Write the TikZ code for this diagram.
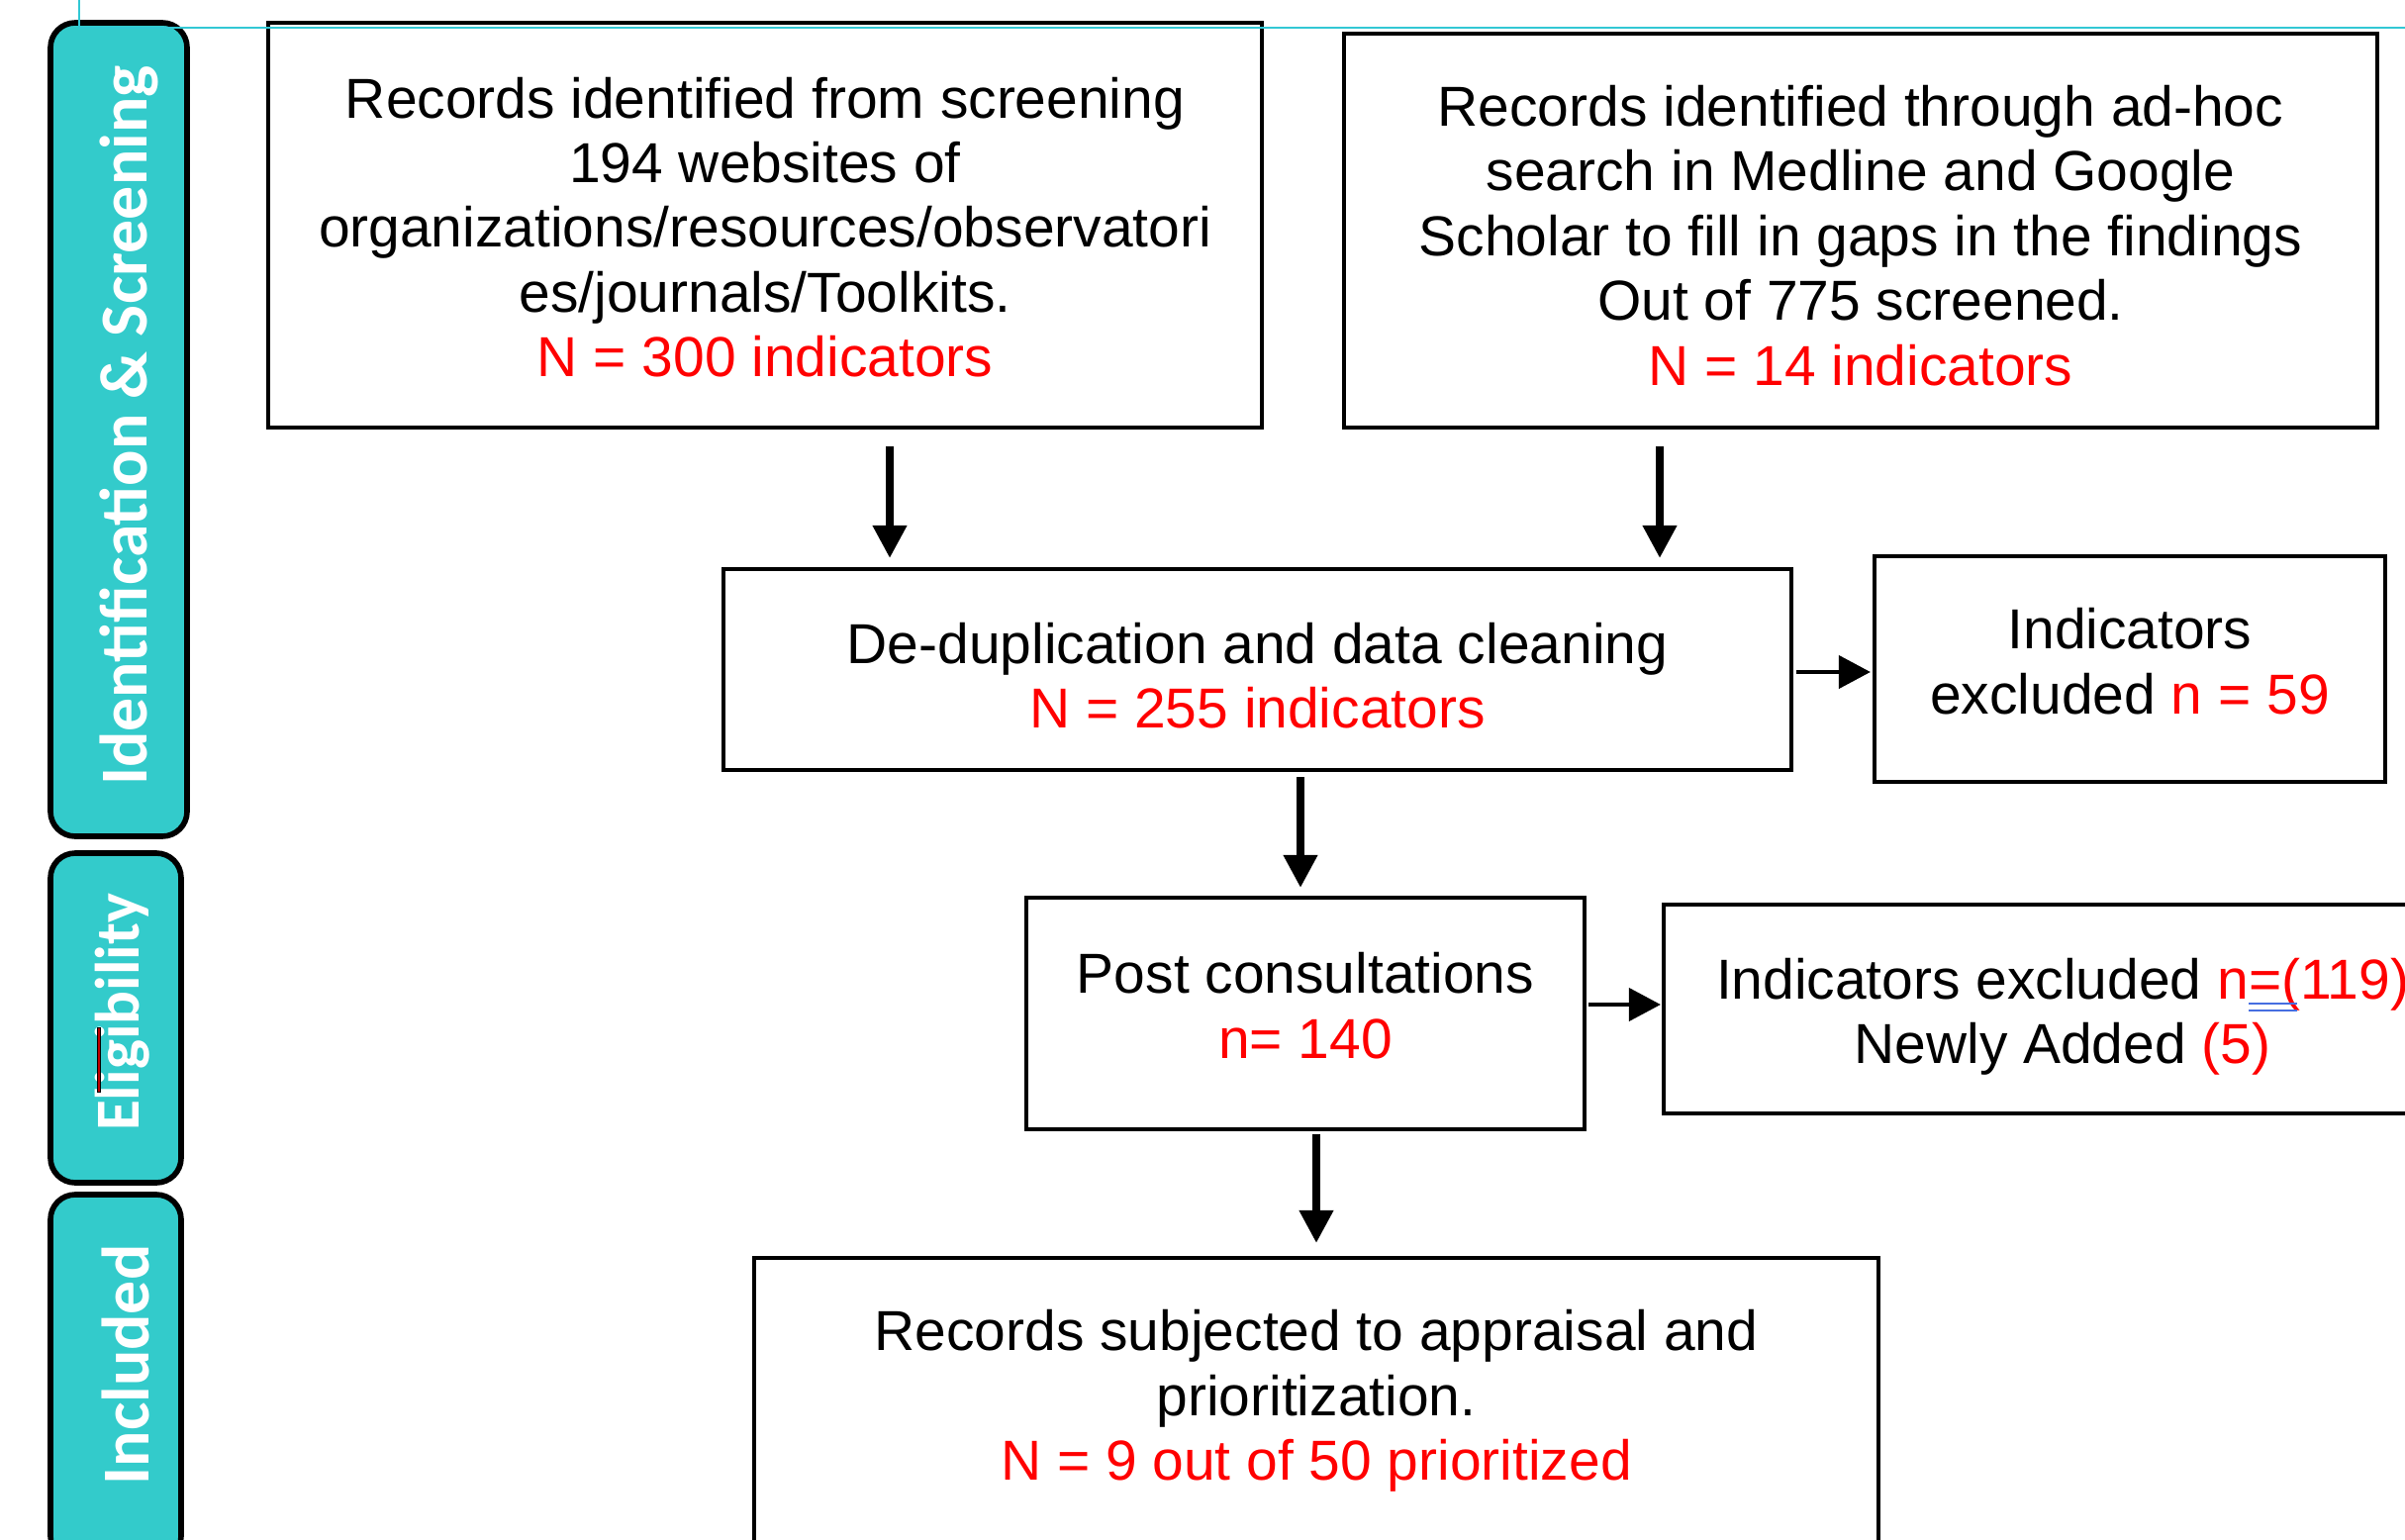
\documentclass[tikz,border=0pt]{standalone}
\usepackage{fontspec}
\setmainfont{Liberation Sans}
\newfontfamily\sidefont{Carlito}
\usetikzlibrary{arrows.meta}
\definecolor{sidecyan}{RGB}{51,203,203}
\definecolor{guidecyan}{RGB}{50,200,212}
\definecolor{spellblue}{RGB}{70,110,225}
\begin{document}
\begin{tikzpicture}[
 box/.style={draw=black, line width=1.2pt, fill=white, inner sep=0pt},
 txt/.style={inner sep=0pt, align=center, font=\fontsize{16.2}{18.6}\selectfont},
 side/.style={draw=black, line width=1.6pt, fill=sidecyan, rounded corners=0.25cm, inner sep=0pt},
 sidelabel/.style={text=white, rotate=90, inner sep=0pt,
   font=\sidefont\bfseries\fontsize{19.3}{22}\selectfont},
 varr/.style={-{Triangle[length=0.33cm,width=0.33cm]}, line width=2.1pt},
 harr/.style={-{Triangle[length=0.32cm,width=0.33cm]}, line width=1.2pt},
]
\useasboundingbox (0,0) rectangle (24.3,-15.56);
\clip (0,0) rectangle (24.3,-15.56);

% side bars
\node[side, minimum width=1.38cm, minimum height=8.22cm] (s1) at (1.20,-4.34) {};
\node[side, minimum width=1.32cm, minimum height=3.33cm] (s2) at (1.17,-10.285) {};
\node[side, minimum width=1.32cm, minimum height=3.70cm] (s3) at (1.17,-13.92) {};
\node[sidelabel] (l1) at (1.30,-4.30) {Identification \& Screening};
\node[sidelabel, font=\sidefont\bfseries\fontsize{18}{21}\selectfont] (l2) at (1.24,-10.23) {Eligibility};
\node[sidelabel] (l3) at (1.27,-13.79) {Included};
\draw[black, line width=1.1pt] (1.00,-10.38) -- (1.00,-11.04);
\draw[red!75!black, line width=0.45pt] (1.00,-10.39) -- (1.00,-11.03);

% boxes
\node[box, minimum width=10.04cm, minimum height=4.09cm] (A) at (7.73,-2.275) {};
\node[box, minimum width=10.44cm, minimum height=3.98cm] (B) at (18.80,-2.33) {};
\node[box, minimum width=10.79cm, minimum height=2.03cm] (C) at (12.705,-6.765) {};
\node[box, minimum width=5.16cm, minimum height=2.28cm] (D) at (21.52,-6.76) {};
\node[box, minimum width=5.64cm, minimum height=2.34cm] (E) at (13.19,-10.24) {};
\node[box, minimum width=8.06cm, minimum height=2.11cm] (F) at (20.84,-10.195) {};
\node[box, minimum width=11.36cm, minimum height=2.89cm] (G) at (13.30,-14.155) {};

% box texts
\node[txt] (At) at ([yshift=-0.02cm]A.center)
 {Records identified from screening\\194 websites of\\organizations/resources/observatori\\es/journals/Toolkits.\\\textcolor{red}{N = 300 indicators}};
\node[txt] (Bt) at ([yshift=-0.05cm]B.center)
 {Records identified through ad-hoc\\search in Medline and Google\\Scholar to fill in gaps in the findings\\Out of 775 screened.\\\textcolor{red}{N = 14 indicators}};
\node[txt] (Ct) at ([yshift=-0.06cm]C.center)
 {De-duplication and data cleaning\\\textcolor{red}{N = 255 indicators}};
\node[txt] (Dt) at ([yshift=0.08cm]D.center)
 {Indicators\\excluded \textcolor{red}{n = 59}};
\node[txt] (Et) at ([yshift=0.08cm]E.center)
 {Post consultations\\\textcolor{red}{n= 140}};
\node[txt] (Ft) at ([yshift=-0.08cm]F.center)
 {Indicators excluded \textcolor{red}{n=(119)}\\Newly Added \textcolor{red}{(5)}};
\node[txt] (Gt) at (G.center)
 {Records subjected to appraisal and\\prioritization.\\\textcolor{red}{N = 9 out of 50 prioritized}};

% spell-check mark
\draw[spellblue, line width=0.5pt] (22.72,-10.14) -- (23.21,-10.14);
\draw[spellblue, line width=0.5pt] (22.72,-10.21) -- (23.21,-10.21);

% connectors
\coordinate (xa) at (8.99,0);
\coordinate (xb) at (16.77,0);
\coordinate (xc) at (13.14,0);
\coordinate (xe) at (13.30,0);
\coordinate (yd) at (0,-6.79);
\coordinate (yf) at (0,-10.15);
\draw[varr, shorten <=0.17cm, shorten >=0.09cm] (A.south -| xa) -- (C.north -| xa);
\draw[varr, shorten <=0.17cm, shorten >=0.09cm] (B.south -| xb) -- (C.north -| xb);
\draw[harr, shorten <=0.03cm, shorten >=0.02cm] (C.east |- yd) -- (D.west |- yd);
\draw[varr, shorten <=0.05cm, shorten >=0.08cm] (C.south -| xc) -- (E.north -| xc);
\draw[harr, shorten <=0.02cm, shorten >=0.01cm] (E.east |- yf) -- (F.west |- yf);
\draw[varr, shorten <=0.03cm, shorten >=0.13cm] (E.south -| xe) -- (G.north -| xe);

% guide lines
\draw[guidecyan, line width=0.7pt] (0.80,0) -- (0.80,-0.28) -- (24.3,-0.28);
\end{tikzpicture}
\end{document}
